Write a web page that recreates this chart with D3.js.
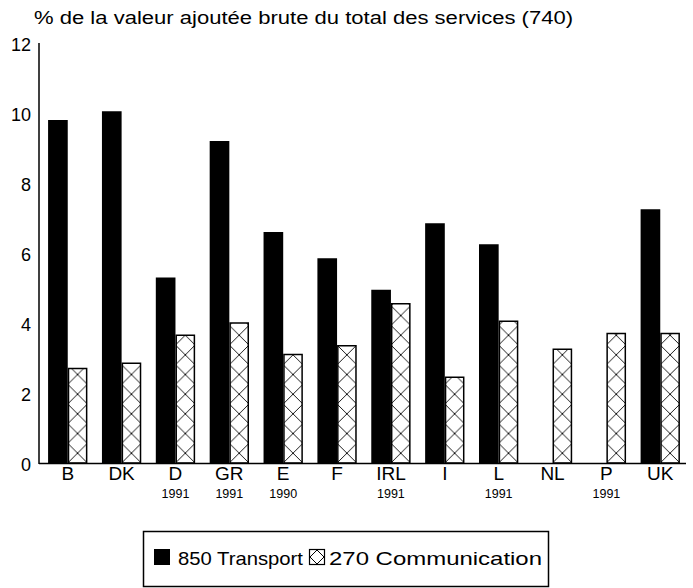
<!DOCTYPE html>
<html>
<head>
<meta charset="utf-8">
<script src="https://cdn.jsdelivr.net/npm/d3@7"></script>
<style>
  html, body { margin: 0; padding: 0; background: #fff; }
  svg { display: block; }
  text { font-family: "Liberation Sans", Arial, Helvetica, sans-serif; fill: #000; }
</style>
</head>
<body>
<svg id="chart" width="693" height="588"></svg>
<script>
const categories = ["B", "DK", "D", "GR", "E", "F", "IRL", "I", "L", "NL", "P", "UK"];
const years = ["", "", "1991", "1991", "1990", "", "1991", "", "1991", "", "1991", ""];
const transport = [9.8, 10.05, 5.3, 9.2, 6.6, 5.85, 4.95, 6.85, 6.25, null, null, 7.25];
const communication = [2.7, 2.85, 3.65, 4.0, 3.1, 3.35, 4.55, 2.45, 4.05, 3.25, 3.7, 3.7];
const seriesNames = ["850 Transport", "270 Communication"];
const yTicks = [0, 2, 4, 6, 8, 10, 12];
const title = "% de la valeur ajoutée brute du total des services (740)";

const svg = d3.select("#chart");

const x0 = 40, x1 = 688, yTop = 43, yBottom = 463;
const x = d3.scaleBand().domain(categories).range([x0, x1]).paddingInner(0.27).paddingOuter(0.15);
const xs = d3.scaleBand().domain(seriesNames).range([0, x.bandwidth()]);
const y = d3.scaleLinear().domain([0, 12]).range([yBottom, yTop]);

// title
svg.append("text")
  .attr("x", 34).attr("y", 24)
  .attr("font-size", 17.5)
  .attr("textLength", 539).attr("lengthAdjust", "spacingAndGlyphs")
  .text(title);

// patterns for communication bars
const defs = svg.append("defs");
const commData = categories.map((c, i) => ({ c, i, v: communication[i] })).filter(d => d.v != null);
const bw = xs.bandwidth();
commData.forEach(d => {
  const px = x(d.c) + xs(seriesNames[1]);
  const p = defs.append("pattern")
    .attr("id", "hatch" + d.i)
    .attr("patternUnits", "userSpaceOnUse")
    .attr("x", px).attr("y", y(0))
    .attr("width", bw).attr("height", bw);
  p.append("rect").attr("width", bw).attr("height", bw).attr("fill", "#fff");
  p.append("path")
    .attr("d", `M0,0L${bw},${bw}M${bw},0L0,${bw}`)
    .attr("stroke", "#000").attr("stroke-width", 0.9).attr("fill", "none");
});

// transport bars
const trData = categories.map((c, i) => ({ c, i, v: transport[i] })).filter(d => d.v != null);
svg.append("g").selectAll("rect").data(trData).join("rect")
  .attr("x", d => x(d.c) + xs(seriesNames[0]))
  .attr("y", d => y(d.v))
  .attr("width", xs.bandwidth())
  .attr("height", d => y(0) - y(d.v))
  .attr("fill", "#000");

// communication bars
svg.append("g").selectAll("rect").data(commData).join("rect")
  .attr("x", d => x(d.c) + xs(seriesNames[1]) + 0.75)
  .attr("y", d => y(d.v))
  .attr("width", xs.bandwidth() - 1.5)
  .attr("height", d => y(0) - y(d.v))
  .attr("fill", d => `url(#hatch${d.i})`)
  .attr("stroke", "#000").attr("stroke-width", 1.5);

// y axis
const yAxis = svg.append("g")
  .attr("transform", `translate(${x0},0)`)
  .call(d3.axisLeft(y).tickValues(yTicks).tickFormat(d3.format("d")).tickSize(0).tickPadding(9));
yAxis.select(".domain").remove();
yAxis.selectAll("text").attr("font-size", 18).attr("dy", "0.4em")
  .style("font-family", "'Liberation Sans', Arial, sans-serif");
svg.append("line").attr("x1", x0 - 1).attr("x2", x0 - 1).attr("y1", yTop).attr("y2", yBottom + 1)
  .attr("stroke", "#000").attr("stroke-width", 1.5);

// x axis
const xAxis = svg.append("g")
  .attr("transform", `translate(0,${yBottom})`)
  .call(d3.axisBottom(x).tickSize(0).tickPadding(4));
xAxis.select(".domain").remove();
xAxis.selectAll("text").attr("font-size", 19)
  .style("font-family", "'Liberation Sans', Arial, sans-serif");
svg.append("line").attr("x1", x0 - 1).attr("x2", 686).attr("y1", yBottom + 0.5).attr("y2", yBottom + 0.5)
  .attr("stroke", "#000").attr("stroke-width", 1.5);

// year labels
svg.append("g").selectAll("text").data(categories.map((c, i) => ({ c, t: years[i] })).filter(d => d.t)).join("text")
  .attr("x", d => x(d.c) + x.bandwidth() / 2)
  .attr("y", 498)
  .attr("text-anchor", "middle")
  .attr("font-size", 12.5)
  .text(d => d.t);

// legend
const lg = svg.append("g");
lg.append("rect").attr("x", 143.5).attr("y", 531.5).attr("width", 405).attr("height", 55)
  .attr("fill", "none").attr("stroke", "#000").attr("stroke-width", 1.5);
lg.append("rect").attr("x", 154).attr("y", 549).attr("width", 16).attr("height", 16).attr("fill", "#000");
lg.append("text").attr("x", 178).attr("y", 565).attr("font-size", 19)
  .attr("textLength", 125).attr("lengthAdjust", "spacingAndGlyphs").text(seriesNames[0]);
lg.append("rect").attr("x", 309.5).attr("y", 549.5).attr("width", 15).attr("height", 15)
  .attr("fill", "#fff").attr("stroke", "#000").attr("stroke-width", 1.2);
lg.append("path").attr("d", "M317,550L310,557L317,564L324,557Z")
  .attr("fill", "none").attr("stroke", "#000").attr("stroke-width", 1);
lg.append("text").attr("x", 329).attr("y", 565).attr("font-size", 19)
  .attr("textLength", 213).attr("lengthAdjust", "spacingAndGlyphs").text(seriesNames[1]);
</script>
</body>
</html>
